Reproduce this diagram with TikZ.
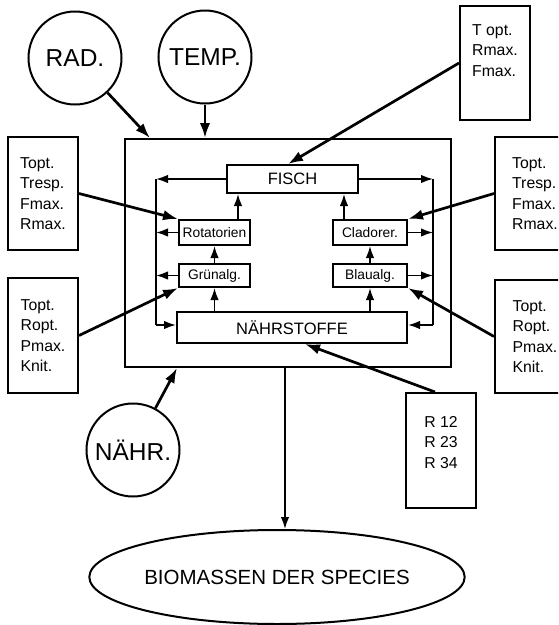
\documentclass[tikz,border=0pt]{standalone}
\usepackage{fontspec}
\setmainfont{Liberation Sans}
\usetikzlibrary{arrows.meta,shapes.geometric,calc}
\definecolor{ink}{HTML}{000000}
\tikzset{
  flow/.style={
    -{Latex[length=12pt,width=8.5pt]},
    draw=ink,
    line width=1.7pt
  },
  paramflow/.style={
    flow,
    -{Latex[length=15pt,width=10.5pt]},
    line width=2.7pt
  },
  bus/.style={draw=ink, line width=1.7pt},
  block/.style={
    rectangle,
    draw=ink,
    line width=2pt,
    fill=white,
    inner sep=0pt,
    align=center,
    font=\fontsize{16.5}{18}\selectfont
  },
  smallblock/.style={
    block,
    minimum width=71pt,
    font=\fontsize{13.8}{15}\selectfont
  },
  sysbox/.style={rectangle, draw=ink, line width=2pt, inner sep=0pt},
  parbox/.style={
    rectangle,
    draw=ink,
    line width=2pt,
    inner sep=0pt,
    align=left,
    font=\fontsize{15.8}{20.3}\selectfont
  },
  partext/.style={align=left, inner sep=0pt, font=\fontsize{15.8}{20.5}\selectfont},
  factor/.style={
    circle,
    draw=ink,
    line width=2pt,
    minimum size=93pt,
    inner sep=0pt,
    font=\fontsize{24.5}{27}\selectfont
  },
  outbox/.style={
    ellipse,
    draw=ink,
    line width=2pt,
    minimum width=346pt,
    minimum height=94pt,
    inner sep=0pt,
    font=\fontsize{20.5}{22}\selectfont
  }
}

\begin{document}
\begin{tikzpicture}[x=1pt,y=-1pt]
  \useasboundingbox (0,0) rectangle (558,625);
  \clip (0,0) rectangle (558,625);

  % lake system
  \node[sysbox, minimum width=326pt, minimum height=228pt] (system) at (288,253) {};
  \node[block, minimum width=131pt, minimum height=28pt] (fisch) at (292.5,179) {FISCH};
  \node[smallblock, minimum height=25pt] (rot) at (214.5,232.5) {Rotatorien};
  \node[smallblock, minimum height=23pt] (gruen) at (214.5,275.5) {Grünalg.};
  \node[smallblock, minimum width=74pt, minimum height=25pt] (clad) at (370,232.5) {Cladorer.};
  \node[smallblock, minimum width=74pt, minimum height=23pt] (blau) at (370,275.5) {Blaualg.};
  \node[block, minimum width=230pt, minimum height=31pt] (naehr) at (292,327.5) {NÄHRSTOFFE};

  % recycling buses
  \coordinate (lbus) at (156,179);
  \coordinate (lbusend) at (156,325);
  \coordinate (rbus) at (433,179);
  \coordinate (rbusend) at (433,325);
  \draw[bus] (lbus) -- (lbusend);
  \draw[bus] (rbus) -- (rbusend);
  \draw[flow] (fisch.west) -- (lbus);
  \draw[flow] (rot.west) -- (rot.west -| lbus);
  \draw[flow] (gruen.west) -- (gruen.west -| lbus);
  \draw[flow] (lbusend) -- (lbusend -| naehr.west);
  \draw[flow] (fisch.east) -- (rbus);
  \draw[flow] (clad.east) -- (clad.east -| rbus);
  \draw[flow] (blau.east) -- (blau.east -| rbus);
  \draw[flow] (rbusend) -- (rbusend -| naehr.east);

  % food chain
  \coordinate (rotup) at ([xshift=23.5pt]rot.north);
  \coordinate (cladup) at ([xshift=-26pt]clad.north);
  \draw[flow] (rotup) -- (rotup |- fisch.south);
  \draw[flow] (gruen) -- (rot);
  \draw[flow] (gruen.south |- naehr.north) -- (gruen.south);
  \draw[flow] (cladup) -- (cladup |- fisch.south);
  \draw[flow] (blau) -- (clad);
  \draw[flow] (blau.south |- naehr.north) -- (blau.south);

  % parameter boxes
  \node[parbox, minimum width=70pt, minimum height=114pt] (fischpar) at (495,63) {};
  \node[partext] at ([yshift=12.5pt]fischpar.center) {T opt.\\Rmax.\\Fmax.};
  \node[parbox, minimum width=70pt, minimum height=113pt] (rotpar) at (43,193.5) {Topt.\\Tresp.\\Fmax.\\Rmax.};
  \node[parbox, minimum width=70pt, minimum height=115pt] (gruenpar) at (43,335.5) {Topt.\\Ropt.\\Pmax.\\Knit.};
  \node[parbox, minimum width=80pt, minimum height=113pt] (cladpar) at (535,193.5) {Topt.\\Tresp.\\Fmax.\\Rmax.};
  \node[parbox, minimum width=80pt, minimum height=113pt] (blaupar) at (535,336.5) {Topt.\\Ropt.\\Pmax.\\Knit.};
  \node[parbox, minimum width=70pt, minimum height=115pt] (naehrpar) at (441,450.5) {};
  \node[partext] at ([yshift=8pt]naehrpar.center) {R 12\\R 23\\R 34};

  \coordinate (fischin) at ([xshift=-4.5pt]fisch.north);
  \draw[paramflow] (fischpar.west) -- (fischin);
  \draw[paramflow] (rotpar.east) -- (rot.north west);
  \draw[paramflow] (gruenpar.east) -- (gruen.south west);
  \draw[paramflow] (cladpar.west) -- (clad.north east);
  \draw[paramflow] (blaupar.west) -- (blau.south east);
  \draw[paramflow] ([xshift=-6pt]naehrpar.north) -- ([xshift=13pt]naehr.south);

  % driving factors
  \node[factor] (rad) at (75,58) {RAD.};
  \node[factor] (temp) at (205,57) {TEMP.};
  \node[factor] (naehrf) at (133,450) {NÄHR.};
  \draw[paramflow] (rad) -- ([xshift=-138pt]system.north);
  \draw[paramflow] (temp) -- (temp |- system.north);
  \draw[paramflow] (naehrf) -- ([xshift=-111pt]system.south);

  % output
  \node[outbox] (bio) at (277,577) {BIOMASSEN DER SPECIES};
  \coordinate (sysout) at ([xshift=-3pt]system.south);
  \draw[flow] (sysout) -- (sysout |- bio.north);
\end{tikzpicture}
\end{document}
